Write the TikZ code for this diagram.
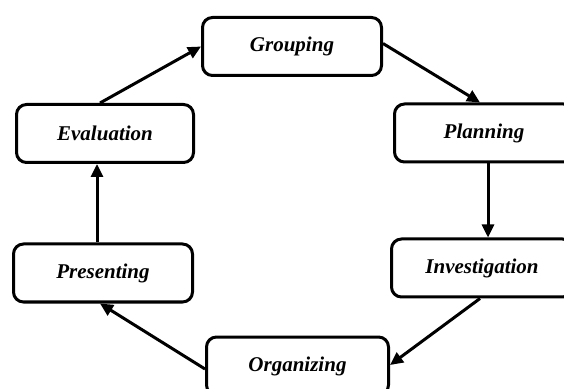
\documentclass[tikz,border=0pt]{standalone}
\usepackage{fontspec}
\setmainfont{Liberation Serif}
\usetikzlibrary{arrows.meta}

\tikzset{
    stage/.style={draw, line width=3pt, rounded corners=10pt, minimum height=58pt,
        font=\fontsize{21}{25}\selectfont\bfseries\itshape},
    flow/.style={line width=3pt, -{Triangle[length=13pt,width=12pt]}}
}

\begin{document}
\begin{tikzpicture}[x=1pt, y=1pt]

    \useasboundingbox (0,0) rectangle (564,388);
    \clip (0,0) rectangle (564,388);

    % the six stages
    \node[stage, minimum width=179pt] (grouping) at (292,341.5) {Grouping};
    \node[stage, minimum width=179pt] (planning) at (484,255) {Planning};
    \node[stage, minimum width=181pt] (investigation) at (482,120) {Investigation};
    \node[stage, minimum width=182pt] (organizing) at (297.5,22) {Organizing};
    \node[stage, minimum width=179pt] (presenting) at (103,115) {Presenting};
    \node[stage, minimum width=177pt] (evaluation) at (105,254.5) {Evaluation};

    % arrows round the cycle
    \draw[flow] ([xshift=-5pt]evaluation.north) -- (grouping.west);
    \draw[flow] ([yshift=3pt]grouping.east) -- ([xshift=-4pt]planning.north);
    \draw[flow] ([xshift=4pt]planning.south) -- ([xshift=4pt]planning.south |- investigation.north);
    \draw[flow] ([xshift=-2pt]investigation.south) -- ([yshift=1pt]organizing.east);
    \draw[flow] ([yshift=-3pt]organizing.west) -- ([xshift=-3pt]presenting.south);
    \draw[flow] ([xshift=-6pt]presenting.north) -- ([xshift=-6pt]presenting.north |- evaluation.south);

\end{tikzpicture}
\end{document}
